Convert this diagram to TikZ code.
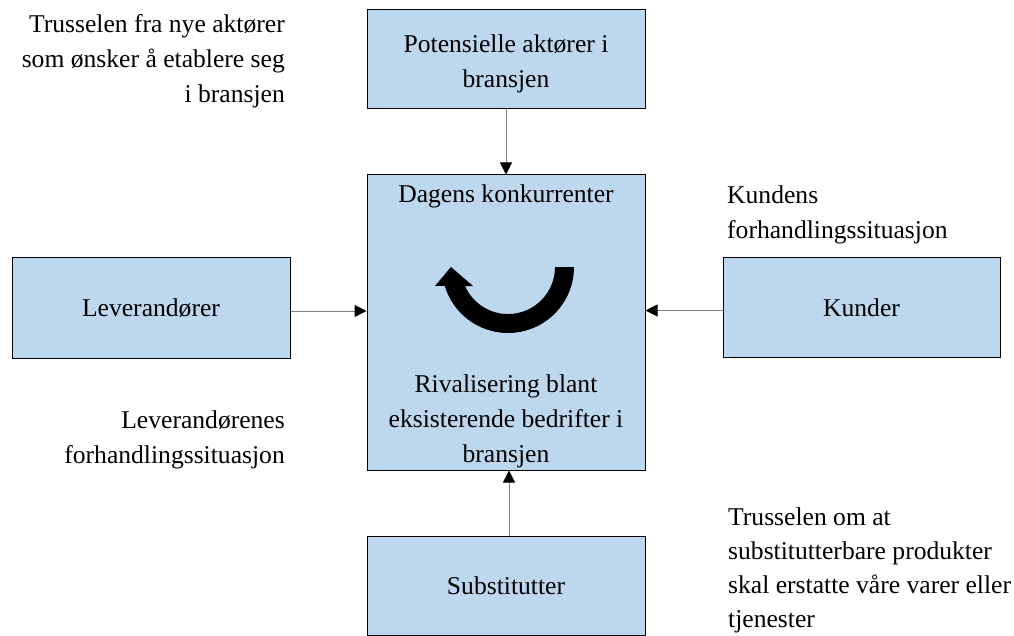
\documentclass[tikz,border=0pt]{standalone}
\usepackage{fontspec}
\setmainfont{Liberation Serif}
\usetikzlibrary{arrows.meta}
\definecolor{boxblue}{RGB}{189,215,238}
\definecolor{linegray}{RGB}{128,128,128}
\newcommand\fs{\rule{0pt}{20pt}}
\begin{document}
\begin{tikzpicture}[x=1pt,y=-1pt,
  box/.style={draw=black, line width=1pt, fill=boxblue, inner sep=0pt,
    font=\fontsize{25.6}{35}\selectfont},
  txt/.style={inner sep=0pt, font=\fontsize{25.6}{35}\selectfont},
  conn/.style={draw=linegray, line width=1pt,
    -{Triangle[length=12pt,width=12pt,color=black,fill=black]}}]
\useasboundingbox (0,0) rectangle (1014,636);
% boxes
\node[box, minimum width=278pt, minimum height=99pt] (top) at (506,59.5) {};
\node[box, minimum width=278pt, minimum height=295pt] (ctr) at (506,322.5) {};
\node[box, minimum width=278pt, minimum height=100pt] (lev) at (151,308) {Leverandører};
\node[box, minimum width=277pt, minimum height=99pt] (kun) at (861.5,307.5) {Kunder};
\node[box, minimum width=278pt, minimum height=99pt] (sub) at (506,585.5) {Substitutter};
% box texts
\node[txt, anchor=north, align=center] (toptxt) at (506,32) {\fs Potensielle aktører i\\bransjen};
\node[txt, anchor=north] (dagens) at (506,182) {\fs Dagens konkurrenter};
\node[txt, anchor=north, align=center] (rival) at (506,372) {\fs Rivalisering blant\\eksisterende bedrifter i\\bransjen};
% side texts
\node[txt, anchor=north east, align=right] (t1) at (285,12) {\fs Trusselen fra nye aktører\\som ønsker å etablere seg\\i bransjen};
\node[txt, anchor=north west, align=left] (t2) at (727,183) {\fs Kundens\\forhandlingssituasjon};
\node[txt, anchor=north east, align=right] (t3) at (285,408) {\fs Leverandørenes\\forhandlingssituasjon};
\node[txt, anchor=north west, align=left, font=\fontsize{25.6}{34}\selectfont] (t4) at (728,505) {\fs Trusselen om at\\substitutterbare produkter\\skal erstatte våre varer eller\\tjenester};
% connectors
\draw[conn] (top.south) -- (ctr.north);
\draw[conn] ([yshift=-3pt]lev.east) -- ([yshift=-3pt]lev.east -| ctr.west);
\draw[conn] ([yshift=-3pt]kun.west) -- ([yshift=-3pt]kun.west -| ctr.east);
\draw[conn] ([xshift=3pt]sub.north) -- ([xshift=3pt]ctr.south);
% circular arrow
\fill[black] (574,267) arc[start angle=0, end angle=163.3, radius=66]
  -- (435,286) -- (451,267) -- (473,286) -- (465,286)
  arc[start angle=156.2, end angle=0, radius=47] -- cycle;
\end{tikzpicture}
\end{document}
